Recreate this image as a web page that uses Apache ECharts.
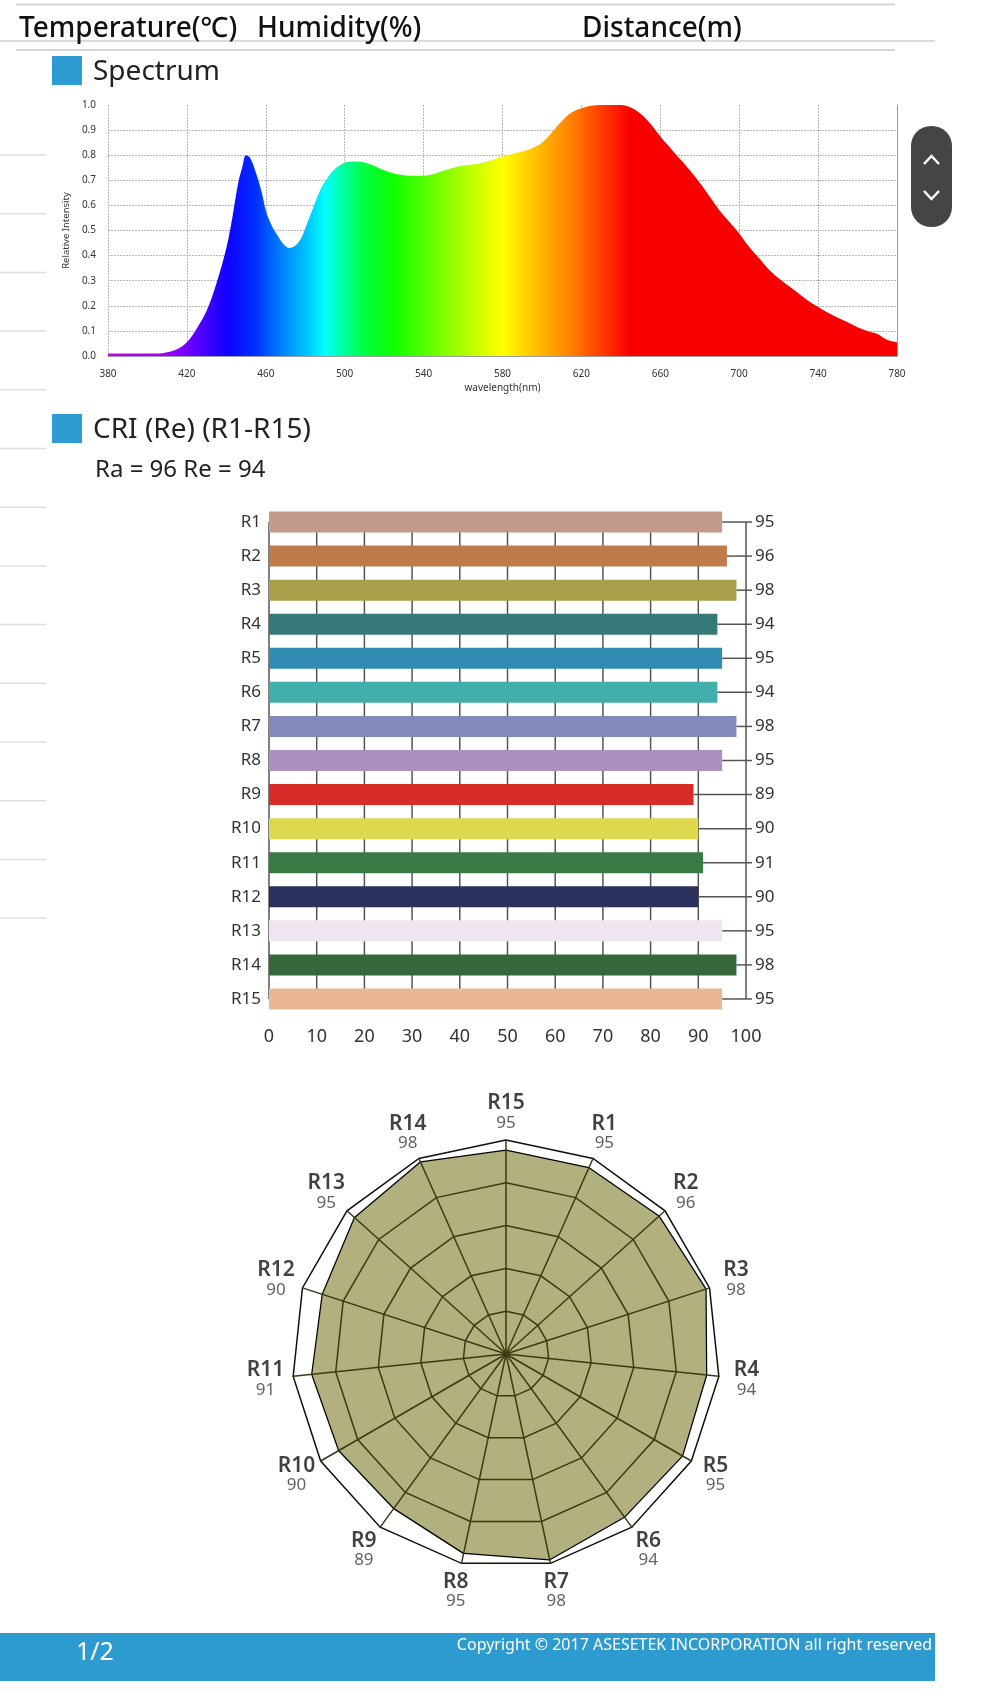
<!DOCTYPE html>
<html>
<head>
<meta charset="utf-8">
<title>Spectrum / CRI</title>
<script src="https://cdn.jsdelivr.net/npm/echarts@6/dist/echarts.min.js"></script>
<style>
  html, body { margin: 0; padding: 0; background: #fff; }
  #page { width: 985px; height: 1696px; }
</style>
</head>
<body>
<div id="page"></div>
<script>
// spectrum (relative intensity by wavelength, nm)
const wavelengths = [380, 385, 390, 395, 400, 405, 410, 415, 420, 425, 430, 435, 440, 443, 446, 448, 450, 452, 455, 458,
  460, 463, 466, 469, 472, 475, 478, 481, 484, 487, 490, 495, 500, 505, 510, 515, 520, 525, 530, 535,
  540, 545, 550, 555, 560, 565, 570, 575, 580, 585, 590, 595, 600, 605, 610, 615, 620, 625, 630, 635,
  640, 645, 650, 655, 660, 665, 670, 675, 680, 685, 690, 695, 700, 705, 710, 715, 720, 725, 730, 735,
  740, 745, 750, 755, 760, 765, 770, 775, 780];
const intensity = [0.01, 0.01, 0.01, 0.01, 0.01, 0.01, 0.015, 0.027, 0.055, 0.11, 0.18, 0.29, 0.43, 0.55, 0.69, 0.75, 0.80, 0.79, 0.73, 0.65,
  0.58, 0.52, 0.48, 0.445, 0.43, 0.44, 0.47, 0.53, 0.59, 0.65, 0.695, 0.745, 0.77, 0.775, 0.771, 0.757, 0.74, 0.727, 0.72, 0.718,
  0.718, 0.725, 0.738, 0.75, 0.759, 0.763, 0.77, 0.782, 0.795, 0.805, 0.815, 0.828, 0.85, 0.89, 0.935, 0.97, 0.987, 0.997, 1.0, 1.0,
  1.0, 0.99, 0.965, 0.925, 0.875, 0.83, 0.785, 0.74, 0.69, 0.635, 0.58, 0.535, 0.488, 0.435, 0.39, 0.345, 0.31, 0.28, 0.25, 0.22,
  0.195, 0.172, 0.152, 0.134, 0.115, 0.1, 0.088, 0.065, 0.055];

// CRI R1..R15
const criNames = ['R1', 'R2', 'R3', 'R4', 'R5', 'R6', 'R7', 'R8', 'R9', 'R10', 'R11', 'R12', 'R13', 'R14', 'R15'];
const criValues = [95, 96, 98, 94, 95, 94, 98, 95, 89, 90, 91, 90, 95, 98, 95];
const criColors = ['#c49b8b', '#bf7c4a', '#a8a04b', '#367a78', '#318bb3', '#41aeac', '#8489bb', '#aa91bf',
  '#d72d28', '#dcd94f', '#3a7a45', '#2c305c', '#f0e4f0', '#35673b', '#e9b893'];
const barTicks = [0, 10, 20, 30, 40, 50, 60, 70, 80, 90, 100];
const ra = 96;
const re = 94;

const FONT = '"Noto Sans", "Open Sans", sans-serif';
const lineColor = '#555';
const webColor = '#3b3a12';

// radar reads R15 at the top, then R1, R2 ... clockwise
const radarOrder = [14, 0, 1, 2, 3, 4, 5, 6, 7, 8, 9, 10, 11, 12, 13];
const radarCenter = [506, 1354];
const radarRadius = 214;
const nameRadius = 113; // label centres, in radar units (100 = outer ring)

// spectrum colour band across the x range
const specStops = [
  [380, '#c800e6'], [400, '#b000f0'], [415, '#8a00ff'], [425, '#5a00ff'], [440, '#1000ff'],
  [455, '#0030ff'], [465, '#0070ff'], [480, '#00c0ff'], [490, '#00ffff'], [500, '#00ff9a'],
  [510, '#00ff40'], [525, '#10ff00'], [550, '#80ff00'], [570, '#d8ff00'], [580, '#ffff00'],
  [600, '#ffb400'], [615, '#ff8000'], [630, '#ff3c00'], [645, '#f80000'], [780, '#f80000']
].map(([nm, c]) => ({ offset: (nm - 380) / 400, color: c }));

const chart = echarts.init(document.getElementById('page'), null, { renderer: 'canvas' });

const txt = (text, x, y, size, opts = {}) => ({
  type: 'text',
  style: {
    text, x, y,
    font: `${opts.weight || 'normal'} ${size}px ${FONT}`,
    fill: opts.fill || '#111',
    textAlign: opts.align || 'left', align: opts.align || 'left',
    textVerticalAlign: 'middle', verticalAlign: 'middle'
  },
  z: 10
});
const hline = (x1, x2, y, color, w) => ({
  type: 'line', shape: { x1, y1: y, x2, y2: y }, style: { stroke: color, lineWidth: w }, z: 1
});

const graphics = [
  hline(16, 895, 4.5, '#d6d6d6', 2),
  txt('Temperature(℃)', 19, 29, 28, { weight: 500 }),
  txt('Humidity(%)', 257, 29, 28, { weight: 500 }),
  txt('Distance(m)', 582, 29, 28, { weight: 500 }),
  hline(0, 935, 41, '#d0d0d0', 1.5),
  hline(16, 895, 50, '#d6d6d6', 2),
  { type: 'rect', shape: { x: 52, y: 56, width: 30, height: 29 }, style: { fill: '#2e9bd3' } },
  txt('Spectrum', 93, 72, 28, { fill: '#222' }),
  { type: 'rect', shape: { x: 52, y: 414, width: 30, height: 29 }, style: { fill: '#2e9bd3' } },
  txt('CRI (Re) (R1-R15)', 93, 430, 28, { fill: '#222' }),
  txt(`Ra = ${ra} Re = ${re}`, 95, 470, 24, { fill: '#222' }),
  // scroll widget
  { type: 'rect', shape: { x: 911, y: 126, width: 41, height: 101, r: 20 }, style: { fill: '#454545' }, z: 10 },
  { type: 'polyline', shape: { points: [[924, 164], [931.5, 156], [939, 164]] }, style: { stroke: '#fff', lineWidth: 2.5, fill: null }, z: 11 },
  { type: 'polyline', shape: { points: [[924, 191], [931.5, 199], [939, 191]] }, style: { stroke: '#fff', lineWidth: 2.5, fill: null }, z: 11 },
  // footer
  { type: 'rect', shape: { x: 0, y: 1633, width: 935, height: 48 }, style: { fill: '#2e9bd0' } },
  txt('1/2', 76, 1653, 25, { fill: '#fff' }),
  txt('Copyright © 2017 ASESETEK INCORPORATION all right reserved', 932, 1645, 16, { fill: '#fff', align: 'right' })
];
// faint page rules on the left
for (let k = 0; k < 14; k++) graphics.push(hline(0, 46, 155 + k * 58.7, '#dedede', 1.5));

const option = {
  backgroundColor: '#fff',
  animation: false,
  textStyle: { fontFamily: FONT },
  graphic: { elements: graphics },
  grid: [
    { left: 108, right: 88, top: 105, height: 251 },
    { left: 269, width: 477, top: 505, height: 511 }
  ],
  xAxis: [
    {
      gridIndex: 0, type: 'value', min: 380, max: 780, interval: 20,
      name: 'wavelength(nm)', nameLocation: 'middle', nameGap: 27,
      nameTextStyle: { fontSize: 10, color: '#333' },
      axisLine: { show: false }, axisTick: { show: false },
      axisLabel: { fontSize: 10, color: '#333', margin: 13, formatter: v => ((v - 380) % 40 === 0 ? String(v) : '') },
      splitLine: { show: true, showMinLine: true, lineStyle: { color: ['#b8b8b8', 'transparent'], type: [2, 1], width: 1 } }
    },
    {
      gridIndex: 0, type: 'value', min: 380, max: 780, position: 'top',
      axisLine: { show: true, lineStyle: { color: '#999', width: 1 } },
      axisTick: { show: false }, axisLabel: { show: false }, splitLine: { show: false }
    },
    {
      gridIndex: 1, type: 'value', min: 0, max: 100, interval: 10,
      axisLine: { show: false }, axisTick: { show: false }, splitLine: { show: false },
      axisLabel: { fontSize: 18, color: '#333', margin: 12 }
    }
  ],
  yAxis: [
    {
      gridIndex: 0, type: 'value', min: 0, max: 1, interval: 0.1,
      name: 'Relative Intensity', nameLocation: 'middle', nameGap: 31, nameRotate: 90,
      nameTextStyle: { fontSize: 9.5, color: '#333' },
      axisLine: { show: false }, axisTick: { show: false },
      axisLabel: { fontSize: 10, color: '#333', margin: 12, formatter: v => v.toFixed(1) },
      splitLine: { show: true, showMaxLine: false, lineStyle: { color: '#b8b8b8', type: [2, 1], width: 1 } }
    },
    {
      gridIndex: 0, type: 'value', min: 0, max: 1, position: 'right',
      axisLine: { show: true, lineStyle: { color: '#999', width: 1 } },
      axisTick: { show: false }, axisLabel: { show: false }, splitLine: { show: false }
    },
    {
      gridIndex: 1, type: 'category', data: criNames, inverse: true,
      axisLine: { show: false }, axisTick: { show: false }, splitLine: { show: false },
      axisLabel: { fontSize: 17, color: '#333', margin: 8 }
    },
    {
      gridIndex: 1, type: 'category', data: criValues.map(String), inverse: true, position: 'right',
      axisLine: { show: false }, axisTick: { show: false }, splitLine: { show: false },
      axisLabel: { fontSize: 17, color: '#333', margin: 9 }
    }
  ],
  radar: {
    center: radarCenter,
    radius: radarRadius,
    startAngle: 90,
    shape: 'polygon',
    splitNumber: 5,
    z: 3,
    // indicators run counter-clockwise, so list R15 then R14 ... R1
    indicator: [14, 13, 12, 11, 10, 9, 8, 7, 6, 5, 4, 3, 2, 1, 0].map(i => ({ name: criNames[i], min: 0, max: 100 })),
    axisName: { show: false },
    axisLine: { lineStyle: { color: webColor, width: 1.5 } },
    splitLine: { lineStyle: { color: [webColor, webColor, webColor, webColor, webColor, '#111'], width: 1.5 } },
    splitArea: { show: false }
  },
  // invisible polar frame on the radar, only to centre the R-labels outside each vertex
  polar: { center: radarCenter, radius: radarRadius },
  angleAxis: { type: 'value', min: 0, max: 15, startAngle: 90, clockwise: true, show: false },
  radiusAxis: { type: 'value', min: 0, max: 100, show: false },
  series: [
    {
      type: 'line', xAxisIndex: 0, yAxisIndex: 0,
      data: wavelengths.map((w, i) => [w, intensity[i]]),
      smooth: 0.35, showSymbol: false, symbol: 'none',
      lineStyle: { opacity: 0 },
      areaStyle: { opacity: 1, color: new echarts.graphic.LinearGradient(0, 0, 1, 0, specStops) },
      z: 3
    },
    {
      type: 'custom', xAxisIndex: 2, yAxisIndex: 2,
      data: criValues.map((v, i) => [v, i]),
      encode: { x: 0, y: 1 },
      renderItem: (params, api) => {
        const i = api.value(1);
        const end = api.coord([api.value(0), i]);
        const right = api.coord([100, i]);
        const st = { stroke: lineColor, lineWidth: 1.5 };
        const children = [{ type: 'line', shape: { x1: end[0], y1: end[1], x2: right[0] + 6, y2: right[1] }, style: st }];
        if (i < criValues.length - 1) {
          barTicks.forEach(t => {
            const a = api.coord([t, i]);
            const b = api.coord([t, i + 1]);
            children.push({ type: 'line', shape: { x1: a[0], y1: a[1], x2: b[0], y2: b[1] }, style: st });
          });
        }
        return { type: 'group', children };
      },
      z: 1
    },
    {
      type: 'bar', xAxisIndex: 2, yAxisIndex: 2,
      data: criValues.map((v, i) => ({ value: v, itemStyle: { color: criColors[i] } })),
      barWidth: 21,
      z: 2
    },
    {
      type: 'radar',
      z: 2,
      symbol: 'none',
      data: [{
        value: [14, 13, 12, 11, 10, 9, 8, 7, 6, 5, 4, 3, 2, 1, 0].map(i => criValues[i]),
        lineStyle: { color: '#000', width: 2.5 },
        areaStyle: { color: '#b1b07e', opacity: 1 }
      }]
    },
    {
      type: 'scatter', coordinateSystem: 'polar', polarIndex: 0,
      clip: false,
      symbolSize: 1, itemStyle: { color: 'rgba(0,0,0,0)' }, silent: true,
      data: radarOrder.map((ci, k) => ({ name: criNames[ci], value: [nameRadius, k] })),
      label: {
        show: true, position: 'inside',
        formatter: p => `{n|${p.name}}\n{v|${criValues[criNames.indexOf(p.name)]}}`,
        rich: {
          n: { fontSize: 21, fontWeight: 600, color: '#111', align: 'center', lineHeight: 21, fontFamily: FONT },
          v: { fontSize: 17, color: '#3a3a3a', align: 'center', lineHeight: 18, fontFamily: FONT }
        }
      },
      labelLayout: { hideOverlap: false },
      z: 5
    }
  ]
};

chart.setOption(option);
</script>
</body>
</html>
